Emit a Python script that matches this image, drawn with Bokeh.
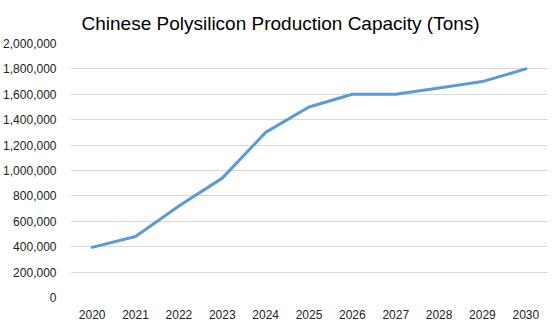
from bokeh.plotting import figure
from bokeh.models import FixedTicker, NumeralTickFormatter, FactorRange, Range1d, ColumnDataSource
from bokeh.embed import file_html
from bokeh.resources import INLINE

years = ["2020", "2021", "2022", "2023", "2024", "2025", "2026", "2027", "2028", "2029", "2030"]
capacity = [395000, 480000, 720000, 940000, 1300000, 1500000, 1600000, 1600000, 1650000, 1700000, 1800000]
y_ticks = [0, 200000, 400000, 600000, 800000, 1000000, 1200000, 1400000, 1600000, 1800000, 2000000]
title_text = "Chinese Polysilicon Production Capacity (Tons)"

FONT = "Liberation Sans"

p = figure(width=553, height=322, x_range=FactorRange(*years), y_range=Range1d(0, 2000000),
           output_backend="svg", toolbar_location=None, title=title_text,
           min_border_left=68, min_border_right=6, min_border_top=43, min_border_bottom=25)

src = ColumnDataSource(dict(x=years, y=capacity))
p.line("x", "y", source=src, line_color="#5b9bd5", line_width=3, line_join="round", line_cap="round")

p.title.text_font = FONT
p.title.text_font_size = "19px"
p.title.text_font_style = "normal"
p.title.text_color = "#000000"
p.title.align = "left"
p.title.offset = 11
p.title.standoff = 20

p.outline_line_color = None
p.background_fill_color = "white"
p.border_fill_color = "white"

p.yaxis.ticker = FixedTicker(ticks=y_ticks)
p.yaxis.formatter = NumeralTickFormatter(format="0,0")
for ax in (p.xaxis[0], p.yaxis[0]):
    ax.axis_line_color = None
    ax.major_tick_line_color = None
    ax.minor_tick_line_color = None
    ax.major_label_text_font = FONT
    ax.major_label_text_font_size = "12px"
    ax.major_label_text_color = "#222222"
p.yaxis.major_label_standoff = 8
p.xaxis.major_label_standoff = 6

p.xgrid.grid_line_color = None
p.ygrid.ticker = FixedTicker(ticks=y_ticks)
p.ygrid.grid_line_color = "#d9d9d9"
p.ygrid.grid_line_width = 1

open("out.html", "w").write(file_html(p, INLINE))
